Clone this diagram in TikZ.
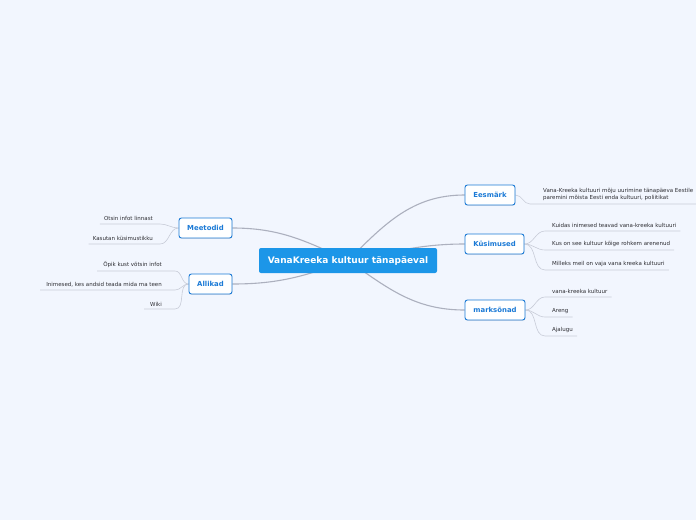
\documentclass[tikz,border=0pt]{standalone}
\usepackage{fontspec}
\setmainfont{DejaVu Sans}
\usepackage{tikz}
\usetikzlibrary{arrows.meta,positioning,shadows,backgrounds}

\definecolor{bgcol}{RGB}{242,246,254}
\definecolor{rootcol}{RGB}{28,150,232}
\definecolor{brcol}{RGB}{27,122,214}
\definecolor{maincon}{RGB}{172,176,190}
\definecolor{leafcon}{RGB}{200,204,216}
\definecolor{leaftxt}{RGB}{45,45,50}

\begin{document}
\begin{tikzpicture}[
  x=1pt, y=1pt,
  root/.style={fill=rootcol, rounded corners=2pt, text=white, minimum width=178pt,
    minimum height=25pt, font=\fontsize{9}{10}\selectfont\bfseries},
  br/.style={draw=brcol, line width=0.9pt, fill=white, rounded corners=2.5pt, text=brcol,
    minimum height=20pt, inner xsep=4pt, font=\fontsize{6.9}{8}\selectfont\bfseries,
    drop shadow={opacity=0.18, shadow xshift=0.4pt, shadow yshift=-0.8pt}},
  leafr/.style={anchor=south west, align=left, inner xsep=7pt, inner ysep=2.8pt,
    text=leaftxt, font=\fontsize{5.5}{7}\selectfont},
  leafl/.style={anchor=south east, align=right, inner xsep=7pt, inner ysep=2.8pt,
    text=leaftxt, font=\fontsize{5.5}{7}\selectfont},
  mc/.style={draw=maincon, line width=1.1pt},
  lc/.style={draw=leafcon, line width=0.6pt}
]
\useasboundingbox (0,0) rectangle (696,-520);

\node[root] (c) at (348,-260.5) {VanaKreeka kultuur tänapäeval};

\node[br, minimum width=50pt] (e) at (490,-195) {Eesmärk};
\node[br, minimum width=59pt] (k) at (494.5,-244) {Küsimused};
\node[br, minimum width=60pt] (m) at (495,-310) {marksõnad};
\node[br, minimum width=53pt] (mt) at (205.5,-228) {Meetodid};
\node[br, minimum width=43pt] (a) at (210.5,-284) {Allikad};

\node[leafr, inner xsep=13pt] (e1) at (530,-204) {Vana-Kreeka kultuuri mõju uurimine tänapäeva Eestile\\paremini mõista Eesti enda kultuuri, poliitikat};

\node[leafr] (k1) at (545,-231) {Kuidas inimesed teavad vana-kreeka kultuuri};
\node[leafr] (k2) at (545,-250) {Kus on see kultuur kõige rohkem arenenud};
\node[leafr] (k3) at (545,-270) {Milleks meil on vaja vana kreeka kultuuri};

\node[leafr] (m1) at (545,-297) {vana-kreeka kultuur};
\node[leafr] (m2) at (545,-317) {Areng};
\node[leafr] (m3) at (545,-336) {Ajalugu};

\node[leafl] (mt1) at (160,-224) {Otsin infot linnast};
\node[leafl] (mt2) at (160,-244) {Kasutan küsimustikku};

\node[leafl, inner xsep=13pt] (a1) at (175,-271) {Õpik kust võtsin infot};
\node[leafl, inner xsep=13pt] (a2) at (175,-290) {Inimesed, kes andsid teada mida ma teen};
\node[leafl, inner xsep=13pt] (a3) at (175,-309) {Wiki};

\begin{scope}[on background layer]
\fill[bgcol] (0,0) rectangle (696,-520);
\draw[mc] (c.center) to[out=45,in=180] (e.west);
\draw[mc] (c.center) to[out=10,in=180] (k.west);
\draw[mc] (c.center) to[out=-35,in=180] (m.west);
\draw[mc] (c.center) to[out=155,in=0] (mt.east);
\draw[mc] (c.center) to[out=-160,in=0] (a.east);

\draw[lc] (e.east) to[out=0,in=180] (e1.south west) -- (e1.south east);
\foreach \l in {k1,k2,k3}
  \draw[lc] (k.east) to[out=0,in=180] (\l.south west) -- ([xshift=-3pt]\l.south east);
\foreach \l in {m1,m2,m3}
  \draw[lc] (m.east) to[out=0,in=180] (\l.south west) -- ([xshift=-3pt]\l.south east);
\foreach \l in {mt1,mt2}
  \draw[lc] (mt.west) to[out=180,in=0] (\l.south east) -- ([xshift=3pt]\l.south west);
\foreach \l in {a1,a2,a3}
  \draw[lc] (a.west) to[out=180,in=0] (\l.south east) -- ([xshift=7pt]\l.south west);
\end{scope}
\end{tikzpicture}
\end{document}
